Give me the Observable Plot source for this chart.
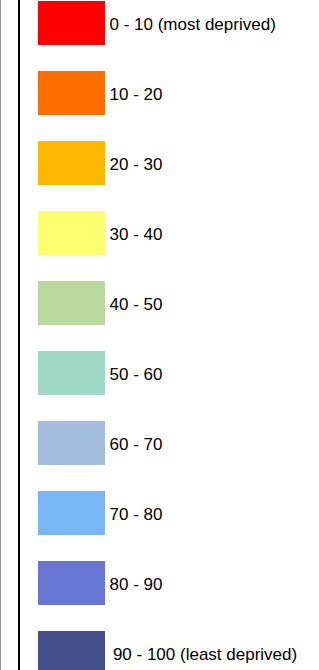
<!DOCTYPE html>
<html>
<head>
<meta charset="utf-8">
<script src="https://cdn.jsdelivr.net/npm/d3@7"></script>
<script src="https://cdn.jsdelivr.net/npm/@observablehq/plot@0.6"></script>
<style>
  html, body { margin: 0; padding: 0; background: #fff; }
  #wrap { position: relative; width: 319px; height: 670px; overflow: hidden; }
  #frameGray { position: absolute; left: 0; top: 0; width: 1px; height: 670px; background: #9a9a9a; }
  #frameBlack { position: absolute; left: 18px; top: 0; width: 2px; height: 670px; background: #000; }
  #chart { position: absolute; left: 0; top: 0; }
</style>
</head>
<body>
<div id="wrap">
  <div id="chart"></div>
  <div id="frameGray"></div>
  <div id="frameBlack"></div>
</div>
<script>
const labels = [
  "0 - 10 (most deprived)",
  "10 - 20",
  "20 - 30",
  "30 - 40",
  "40 - 50",
  "50 - 60",
  "60 - 70",
  "70 - 80",
  "80 - 90",
  "\u200990 - 100 (least deprived)"
];
const colors = [
  "#ff0000",
  "#ff6e00",
  "#ffb700",
  "#ffff70",
  "#b9d99e",
  "#9fd9c5",
  "#a1bddb",
  "#7ab5f5",
  "#6776d0",
  "#434f8a"
];

const data = labels.map((label, i) => ({label, color: colors[i], lo: 0, hi: 1}));

const chart = Plot.plot({
  width: 319,
  height: 670,
  margin: 0,
  style: {background: "transparent", fontFamily: "'Liberation Sans', Arial, sans-serif"},
  x: {type: "linear", domain: [0, 1], range: [38, 105], axis: null},
  y: {type: "band", domain: labels, range: [1, 675], paddingInner: 26 / 70, paddingOuter: 0, round: false, axis: null},
  marks: [
    Plot.barX(data, {
      x1: "lo", x2: "hi", y: "label",
      fill: d => d.color, inset: 0
    }),
    Plot.text(data, {
      x: "hi", y: "label", text: "label",
      textAnchor: "start", dx: 4, dy: 1.5,
      fontSize: 17, fill: "#000"
    })
  ]
});
document.getElementById("chart").appendChild(chart);
</script>
</body>
</html>
